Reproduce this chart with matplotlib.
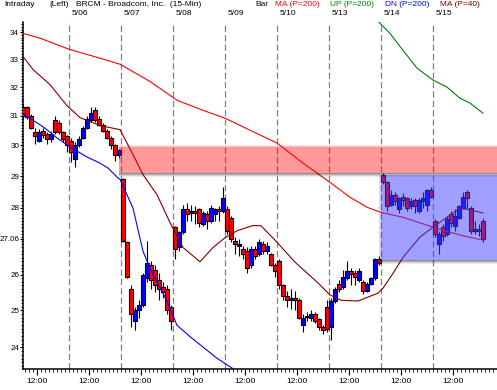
"""
BRCM 15-min intraday candles with moving averages and shaded zones -> out.png
x axis is trading time in hours from the 5/06 open (6.5 h per session)
"""
import matplotlib
matplotlib.use("Agg")
import matplotlib.pyplot as plt
from matplotlib.patches import Rectangle
from matplotlib.ticker import FixedLocator, MultipleLocator, NullFormatter, FixedFormatter

plt.rcParams["font.family"] = ["Liberation Sans", "DejaVu Sans"]

SESSION = 6.5
day_labels = ["5/03", "5/06", "5/07", "5/08", "5/09", "5/10", "5/13", "5/14", "5/15"]

# (open, high, low, close) per bar, one list per session
bars_0503 = [(31.30, 31.40, 30.90, 31.00), (31.30, 31.35, 30.90, 30.95), (31.00, 31.05, 30.55, 30.60),
             (30.45, 30.60, 30.05, 30.30), (30.15, 30.55, 30.10, 30.45), (30.50, 30.60, 30.25, 30.35),
             (30.40, 30.45, 30.05, 30.20), (30.20, 30.50, 30.10, 30.40), (30.85, 31.00, 30.40, 30.45),
             (30.75, 30.85, 30.40, 30.45), (30.45, 30.50, 30.10, 30.20), (30.30, 30.35, 29.80, 30.00)]
bars_0506 = [(30.15, 30.25, 29.45, 29.80), (29.55, 30.10, 29.30, 30.00), (30.00, 30.30, 29.95, 30.20),
             (30.25, 30.65, 30.20, 30.60), (30.60, 31.00, 30.55, 30.90), (30.85, 31.30, 30.80, 31.10),
             (31.20, 31.30, 30.80, 30.85), (30.90, 31.00, 30.65, 30.70), (30.70, 30.75, 30.45, 30.50),
             (30.50, 30.55, 30.20, 30.25), (30.25, 30.30, 29.90, 30.00), (30.00, 30.05, 29.50, 29.70),
             (29.70, 29.90, 29.60, 29.85)]
bars_0507 = [(28.90, 28.95, 26.95, 27.00), (26.95, 27.00, 25.90, 25.95), (25.60, 25.70, 24.55, 24.90),
             (24.70, 25.10, 24.45, 25.00), (25.00, 25.30, 24.80, 25.15), (25.15, 26.05, 25.10, 26.00),
             (25.90, 27.00, 25.80, 26.35), (26.30, 26.40, 25.60, 25.85), (26.15, 26.30, 25.50, 25.70),
             (25.85, 26.05, 25.30, 25.60), (25.65, 25.80, 25.35, 25.50), (25.60, 25.70, 24.90, 25.00),
             (25.10, 25.15, 24.45, 24.70)]
bars_0508 = [(27.40, 27.45, 26.45, 26.75), (26.80, 27.30, 26.70, 27.25), (27.25, 28.10, 27.20, 27.95),
             (27.95, 28.15, 27.60, 27.80), (27.85, 28.10, 27.60, 27.90), (27.90, 28.05, 27.50, 27.85),
             (27.95, 28.00, 27.40, 27.55), (27.50, 27.90, 27.45, 27.85), (27.80, 27.90, 27.35, 27.60),
             (27.60, 28.10, 27.55, 28.00), (27.80, 28.00, 27.60, 27.95), (27.95, 28.05, 27.60, 27.90),
             (27.90, 28.65, 27.85, 28.30)]
bars_0509 = [(27.95, 28.05, 27.20, 27.30), (27.70, 27.75, 26.95, 27.05), (27.00, 27.10, 26.60, 26.90),
             (26.85, 27.05, 26.55, 26.90), (26.75, 26.85, 26.45, 26.60), (26.70, 26.80, 26.05, 26.20),
             (26.30, 26.85, 26.20, 26.75), (26.75, 26.85, 26.45, 26.55), (26.60, 27.05, 26.55, 26.95),
             (26.90, 27.00, 26.60, 26.70), (26.70, 26.95, 26.60, 26.85), (26.60, 26.65, 26.25, 26.30),
             (26.30, 26.35, 25.95, 26.10)]
bars_0510 = [(26.40, 26.45, 25.60, 25.70), (25.70, 25.75, 25.30, 25.40), (25.40, 25.55, 25.10, 25.30),
             (25.30, 25.60, 25.05, 25.35), (25.35, 25.55, 25.00, 25.30), (25.30, 25.35, 24.75, 24.80),
             (24.60, 24.90, 24.40, 24.80), (24.85, 24.95, 24.70, 24.82), (24.80, 25.00, 24.70, 24.90),
             (24.90, 24.95, 24.65, 24.72), (24.75, 24.80, 24.45, 24.55), (24.55, 24.60, 24.35, 24.45),
             (25.10, 25.30, 24.40, 24.50)]
bars_0513 = [(24.55, 25.35, 24.20, 25.25), (25.25, 25.65, 25.20, 25.60), (25.75, 25.85, 25.50, 25.60),
             (25.65, 26.15, 25.60, 25.95), (25.90, 26.40, 25.85, 26.10), (26.10, 26.20, 25.70, 26.02),
             (26.05, 26.15, 25.70, 25.95), (25.85, 26.20, 25.80, 26.10), (25.80, 25.85, 25.45, 25.55),
             (25.55, 25.80, 25.50, 25.75), (25.75, 25.95, 25.70, 25.90), (25.90, 26.50, 25.85, 26.45),
             (26.45, 26.55, 26.30, 26.35)]
bars_0514 = [(29.05, 29.10, 28.75, 28.80), (28.80, 28.85, 27.90, 28.05), (28.10, 28.55, 28.05, 28.40),
             (28.40, 28.50, 28.10, 28.20), (27.95, 28.35, 27.85, 28.30), (28.35, 28.45, 28.05, 28.25),
             (28.30, 28.35, 27.90, 28.00), (28.05, 28.30, 27.95, 28.20), (28.25, 28.30, 27.85, 28.05),
             (27.90, 28.30, 27.85, 28.25), (28.20, 28.50, 28.00, 28.30), (28.10, 28.60, 27.90, 28.55),
             (28.55, 28.65, 28.30, 28.35)]
bars_0515 = [(27.60, 27.65, 27.10, 27.20), (26.90, 27.30, 26.60, 27.20), (27.40, 27.50, 27.00, 27.15),
             (27.20, 27.75, 27.15, 27.65), (27.80, 27.90, 27.40, 27.55), (27.45, 27.95, 27.30, 27.75),
             (27.70, 28.10, 27.65, 28.05), (28.00, 28.50, 27.95, 28.35), (28.50, 28.55, 27.95, 28.30),
             (28.00, 28.05, 27.20, 27.30), (27.30, 27.60, 27.20, 27.35), (27.35, 27.50, 27.15, 27.30),
             (27.60, 27.70, 26.95, 27.06)]
sessions = [bars_0503, bars_0506, bars_0507, bars_0508, bars_0509,
            bars_0510, bars_0513, bars_0514, bars_0515]
last_price = 27.06

# indicator lines (time in hours, price)
ma200_t = [-5.75, -3.625, 0.0, 3.875, 6.375, 10.125, 13.5, 16.75, 19.5, 22.625,
           26.0, 29.25, 32.625, 35.125, 37.25, 38.875, 41.75, 45.5, 48.875, 51.75]
ma200_p = [33.96, 33.78, 33.37, 33.04, 32.82, 32.20, 31.54, 31.19, 30.92, 30.51,
           30.08, 29.42, 28.80, 28.33, 28.02, 27.87, 27.71, 27.41, 27.17, 27.02]
ma40_t = [-5.75, -4.5, -2.375, -0.25, 1.375, 3.875, 6.375, 8.0, 9.25, 11.0, 12.625, 14.25,
          16.375, 18.0, 19.5, 21.0, 23.0, 24.0, 25.75, 28.25, 31.125, 32.625, 34.0, 36.125,
          38.625, 39.25, 40.375, 41.75, 43.875, 45.5, 47.25, 48.875, 50.125, 51.75]
ma40_p = [33.10, 32.63, 32.09, 31.35, 30.94, 30.67, 30.53, 29.70, 29.05, 28.41, 27.55, 26.80,
          26.38, 26.80, 27.09, 27.30, 27.46, 27.45, 27.02, 26.37, 25.77, 25.43, 25.28, 25.26,
          25.48, 25.62, 26.00, 26.51, 27.11, 27.41, 27.71, 27.99, 27.94, 27.84]
up_t = [38.375, 40.125, 41.75, 43.5, 45.5, 47.25, 48.875, 50.125, 51.75]
up_p = [34.50, 33.96, 33.33, 32.68, 32.25, 32.00, 31.61, 31.44, 31.09]
dn_t = [-5.75, -4.5, -3.0, -1.5, 0.125, 2.25, 3.875, 4.875, 6.125, 6.375, 8.0, 9.25,
        10.125, 12.25, 13.5, 15.375, 18.5, 21.375]
dn_p = [31.06, 30.85, 30.58, 30.25, 29.95, 29.62, 29.42, 29.26, 28.94, 28.90, 27.99, 26.69,
        26.19, 25.26, 24.59, 24.24, 23.71, 23.32]

# shaded zones
resist_lo, resist_hi, resist_start = 29.10, 29.95, 6.3
zone_lo, zone_hi, zone_start = 26.43, 29.05, 38.7

X_MIN, X_MAX = -5.75, 53.5
Y_MIN, Y_MAX = 23.43, 34.39


def main():
    fig = plt.figure(figsize=(4.97, 3.90), dpi=100)
    ax = fig.add_axes([23 / 497, 21 / 390, 474 / 497, 347 / 390])
    ax.set_yscale("log")
    ax.set_xlim(X_MIN, X_MAX)
    ax.set_ylim(Y_MIN, Y_MAX)

    # session separators
    for d in range(1, len(day_labels)):
        t0 = (d - 1) * SESSION
        ax.axvline(t0, color="#808080", lw=0.9, dashes=(5, 2.5), zorder=1)
        ax.annotate(day_labels[d], xy=(t0, 1), xycoords=("data", "axes fraction"),
                    xytext=(2.2, 5.8), textcoords="offset points",
                    fontsize=6, va="center", ha="left", annotation_clip=False)

    # candles
    times, opens, highs, lows, closes = [], [], [], [], []
    for d, bars in enumerate(sessions):
        first_k = 13 - len(bars)
        for j, (o, h, l, c) in enumerate(bars):
            times.append((d - 1) * SESSION + 0.25 + 0.5 * (first_k + j))
            opens.append(o); highs.append(h); lows.append(l); closes.append(c)

    ax.vlines(times, lows, highs, color="black", lw=0.8, zorder=3)
    colors = ["#0000ff" if c >= o else "#ff0000" for o, c in zip(opens, closes)]
    bottoms = [min(o, c) for o, c in zip(opens, closes)]
    heights = [abs(c - o) for o, c in zip(opens, closes)]
    ax.bar(times, heights, bottom=bottoms, width=0.42, color=colors,
           edgecolor="black", linewidth=0.8, zorder=4)

    # indicators
    ax.plot(ma200_t, ma200_p, color="#ff0000", lw=0.8, zorder=5)
    ax.plot(ma40_t, ma40_p, color="#800000", lw=0.8, zorder=5)
    ax.plot(up_t, up_p, color="#008000", lw=0.8, zorder=5)
    ax.plot(dn_t, dn_p, color="#0000ff", lw=0.8, zorder=5)

    # resistance band with soft top and drop shadow
    w = X_MAX - resist_start
    ax.add_patch(Rectangle((resist_start, resist_lo), w, resist_hi - resist_lo,
                           fc="#ff0000", ec="none", alpha=0.4, zorder=6))
    for k, a in enumerate([0.25, 0.1]):
        lo = resist_hi + 0.03 * k
        ax.add_patch(Rectangle((resist_start, lo), w, 0.03, fc="#ff0000", ec="none", alpha=a, zorder=6))
    for k, a in enumerate([0.45, 0.3, 0.18, 0.08]):
        hi = resist_lo - 0.035 * k
        ax.add_patch(Rectangle((resist_start, hi - 0.035), w, 0.035, fc="black", ec="none", alpha=a, zorder=6))

    # blue zone
    w = X_MAX - zone_start
    ax.add_patch(Rectangle((zone_start + 0.35, zone_lo), w, zone_hi - zone_lo,
                           fc="#4040ff", ec="none", alpha=0.5, zorder=6))
    ax.add_patch(Rectangle((zone_start, zone_lo), 0.35, zone_hi - zone_lo,
                           fc="#4040ff", ec="none", alpha=0.2, zorder=6))
    for k, a in enumerate([0.45, 0.3, 0.18, 0.08]):
        hi = zone_lo - 0.03 * k
        ax.add_patch(Rectangle((zone_start, hi - 0.03), w, 0.03, fc="black", ec="none", alpha=a, zorder=6))

    # axes styling
    for side in ["top", "right"]:
        ax.spines[side].set_visible(False)
    for side in ["left", "bottom"]:
        ax.spines[side].set_linewidth(1.1)

    yticks = [24, 25, 26, 27.06, 28, 29, 30, 31, 32, 33, 34]
    ax.yaxis.set_major_locator(FixedLocator(yticks))
    ax.yaxis.set_major_formatter(FixedFormatter([f"{v:g}" for v in yticks]))
    ax.yaxis.set_minor_locator(MultipleLocator(0.1))
    ax.yaxis.set_minor_formatter(NullFormatter())
    ax.tick_params(axis="y", which="major", length=2.5, width=0.8, pad=0.3, labelsize=5.8)
    ax.tick_params(axis="y", which="minor", length=1.5, width=0.6)

    noon = [(d - 1) * SESSION + 2.5 for d in range(len(day_labels))]
    ax.xaxis.set_major_locator(FixedLocator(noon))
    ax.xaxis.set_major_formatter(FixedFormatter(["12:00"] * len(noon)))
    ax.xaxis.set_minor_locator(MultipleLocator(0.5))
    ax.tick_params(axis="x", which="major", length=4, width=0.8, pad=2.5, labelsize=6)
    ax.tick_params(axis="x", which="minor", length=2, width=0.6)

    # header line
    header = [(4, "Intraday", "black"), (49, "(Left)", "black"),
              (76, "BRCM - Broadcom, Inc.  (15-Min)", "black"), (255, "Bar", "black"),
              (275, "MA (P=200)", "#ff0000"), (330, "UP (P=200)", "#008000"),
              (385, "DN (P=200)", "#0000ff"), (440, "MA (P=40)", "#800000")]
    for x, s, col in header:
        fig.text(x / 497, 1 - 5 / 390, s, color=col, fontsize=6, va="center", ha="left")

    fig.savefig("out.png", dpi=100)
    plt.close(fig)


if __name__ == "__main__":
    main()
